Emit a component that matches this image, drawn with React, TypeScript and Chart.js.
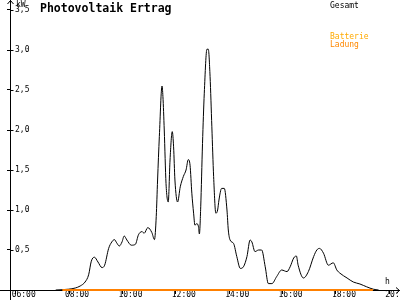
import React, { useEffect, useRef } from "react";
import { Chart, registerables } from "chart.js";

Chart.register(...registerables);

// Gesamt (total PV output, kW)
const gesamtTimes = [
  "07:30", "07:59", "08:14", "08:25", "08:36", "08:44", "08:50", "08:57", "09:05", "09:14",
  "09:20", "09:29", "09:36", "09:42", "09:47", "09:53", "09:59", "10:04", "10:10", "10:20",
  "10:29", "10:36", "10:44", "10:49", "10:57", "11:06", "11:12", "11:16", "11:19", "11:23",
  "11:29", "11:31", "11:34", "11:38", "11:43", "11:47", "11:52", "11:55", "11:58", "12:04",
  "12:10", "12:17", "12:23", "12:28", "12:32", "12:36", "12:40", "12:43", "12:47", "12:51",
  "12:53", "12:56", "13:00", "13:04", "13:10", "13:13", "13:17", "13:21", "13:25", "13:30",
  "13:34", "13:37", "13:43", "13:49", "13:55", "13:58", "14:02", "14:10", "14:17", "14:25",
  "14:32", "14:40", "14:47", "14:51", "14:58", "15:06", "15:13", "15:21", "15:28", "15:36",
  "15:47", "15:58", "16:10", "16:17", "16:25", "16:31", "16:35", "16:47", "16:58", "17:10",
  "17:17", "17:23", "17:32", "17:43", "17:54", "18:02", "18:09", "18:25", "18:39", "18:54",
  "19:09", "19:24", "19:36",
];
const gesamtValues = [
  0, 0.01, 0.025, 0.05, 0.1, 0.19, 0.36, 0.41, 0.35, 0.28,
  0.31, 0.52, 0.6, 0.63, 0.59, 0.55, 0.6, 0.675, 0.625, 0.56,
  0.57, 0.69, 0.73, 0.71, 0.78, 0.72, 0.63, 0.92, 1.375, 1.92,
  2.55, 2.42, 2.0, 1.33, 1.1, 1.625, 1.98, 1.79, 1.375, 1.1,
  1.29, 1.42, 1.5, 1.63, 1.56, 1.21, 0.96, 0.81, 0.83, 0.79,
  0.7, 1.04, 1.83, 2.46, 3.01, 3.01, 2.67, 2.04, 1.42, 0.96,
  1.0, 1.125, 1.27, 1.27, 1.0, 0.75, 0.625, 0.58, 0.42, 0.27,
  0.29, 0.42, 0.625, 0.6, 0.48, 0.5, 0.5, 0.29, 0.08, 0.08,
  0.17, 0.25, 0.23, 0.29, 0.4, 0.425, 0.31, 0.15, 0.23, 0.42,
  0.5, 0.52, 0.46, 0.31, 0.34, 0.25, 0.21, 0.15, 0.1, 0.075,
  0.04, 0.01, 0,
];

// Batterie Ladung (battery charging, kW)
const ladungTimes = ["07:45", "19:23"];
const ladungValues = [0, 0];

const xTickHours = [6, 8, 10, 12, 14, 16, 18, 20];
const yTickValues = [0.5, 1, 1.5, 2, 2.5, 3, 3.5];

const X_MIN = 5.787;
const X_MAX = 20.4;
const Y_MAX = 3.625;

const SMALL_FONT = "8px 'DejaVu Sans Mono'";
const TITLE_FONT = "bold 11.5px 'DejaVu Sans Mono'";

const toHours = (s: string) => {
  const [h, m] = s.split(":").map(Number);
  return h + m / 60;
};
const fmtHour = (h: number) => String(h).padStart(2, "0") + ":00";
const fmtKw = (v: number) => v.toFixed(1).replace(".", ",");

const decorations = {
  id: "decorations",
  afterDraw(chart: any) {
    const { ctx, chartArea, scales } = chart;
    const xs = scales.x;
    const ys = scales.y;
    const axisY = Math.round(ys.getPixelForValue(0)) + 0.5;
    const axisX = Math.round(chartArea.left) + 0.5;
    ctx.save();
    ctx.strokeStyle = "#000";
    ctx.lineWidth = 1;
    ctx.beginPath();
    // x axis extension to the left edge and arrow at right
    ctx.moveTo(0, axisY);
    ctx.lineTo(axisX, axisY);
    ctx.moveTo(chart.width - 4, axisY - 3);
    ctx.lineTo(chart.width - 0.5, axisY);
    ctx.lineTo(chart.width - 4, axisY + 3);
    // y axis extension below and arrow at top
    ctx.moveTo(axisX, axisY);
    ctx.lineTo(axisX, chart.height);
    ctx.moveTo(axisX - 3, 4);
    ctx.lineTo(axisX, 0.5);
    ctx.lineTo(axisX + 3, 4);
    // tick halves crossing the y axis
    yTickValues.forEach((v) => {
      const py = Math.round(ys.getPixelForValue(v)) + 0.5;
      ctx.moveTo(axisX, py);
      ctx.lineTo(axisX + 3, py);
    });
    ctx.stroke();

    ctx.textBaseline = "alphabetic";
    ctx.textAlign = "left";
    ctx.fillStyle = "#000";
    ctx.font = TITLE_FONT;
    ctx.fillText("Photovoltaik Ertrag", 40, 12);
    ctx.font = SMALL_FONT;
    ctx.fillText("kW", 16, 6.5);
    ctx.fillText("h", 385, 284);
    ctx.fillText("Gesamt", 330, 8);
    ctx.fillStyle = "#ffaa00";
    ctx.fillText("Batterie", 330, 39);
    ctx.fillStyle = "#ff8800";
    ctx.fillText("Ladung", 330, 46.5);
    ctx.restore();
  },
};

export default function App() {
  const canvasRef = useRef<HTMLCanvasElement | null>(null);

  useEffect(() => {
    if (!canvasRef.current) return;
    const chart = new Chart(canvasRef.current, {
      type: "line",
      data: {
        datasets: [
          {
            label: "Batterie Ladung",
            data: ladungTimes.map((t, i) => ({ x: toHours(t), y: ladungValues[i] })),
            borderColor: "#ff8000",
            backgroundColor: "#ff8000",
            borderWidth: 2,
            pointRadius: 0,
            tension: 0,
            fill: false,
            clip: false,
            order: -1,
          },
          {
            label: "Gesamt",
            data: gesamtTimes.map((t, i) => ({ x: toHours(t), y: gesamtValues[i] })),
            borderColor: "#000000",
            borderWidth: 1,
            pointRadius: 0,
            fill: false,
            cubicInterpolationMode: "monotone",
            order: 1,
          },
        ],
      },
      options: {
        responsive: false,
        animation: false,
        layout: { padding: 0 },
        plugins: {
          legend: { display: false },
          tooltip: { enabled: false },
          title: { display: false },
        },
        scales: {
          x: {
            type: "linear",
            position: "bottom",
            min: X_MIN,
            max: X_MAX,
            afterBuildTicks: (scale: any) => {
              scale.ticks = xTickHours.map((v) => ({ value: v }));
            },
            afterFit: (scale: any) => {
              scale.height = 10;
              scale.paddingLeft = 0;
              scale.paddingRight = 0;
            },
            grid: {
              drawOnChartArea: false,
              drawTicks: true,
              tickLength: 4,
              color: "#000",
            },
            border: { display: true, color: "#000", width: 1 },
            ticks: {
              autoSkip: false,
              maxRotation: 0,
              minRotation: 0,
              padding: -4,
              labelOffset: 8,
              color: "#000",
              font: { family: "DejaVu Sans Mono", size: 8 },
              callback: (v: any) => fmtHour(Number(v)),
            },
          },
          y: {
            type: "linear",
            position: "left",
            min: 0,
            max: Y_MAX,
            afterBuildTicks: (scale: any) => {
              scale.ticks = yTickValues.map((v) => ({ value: v }));
            },
            afterFit: (scale: any) => {
              scale.width = 10;
              scale.paddingTop = 0;
              scale.paddingBottom = 0;
            },
            grid: {
              drawOnChartArea: false,
              drawTicks: true,
              tickLength: 3,
              color: "#000",
            },
            border: { display: true, color: "#000", width: 1 },
            ticks: {
              mirror: true,
              padding: 5,
              color: "#000",
              font: { family: "DejaVu Sans Mono", size: 8 },
              callback: (v: any) => fmtKw(Number(v)),
            },
          },
        },
      },
      plugins: [decorations],
    } as any);
    return () => chart.destroy();
  }, []);

  return (
    <div style={{ position: "fixed", left: 0, top: 0, width: 400, height: 300, background: "#fff" }}>
      <canvas ref={canvasRef} width={400} height={300} />
    </div>
  );
}
